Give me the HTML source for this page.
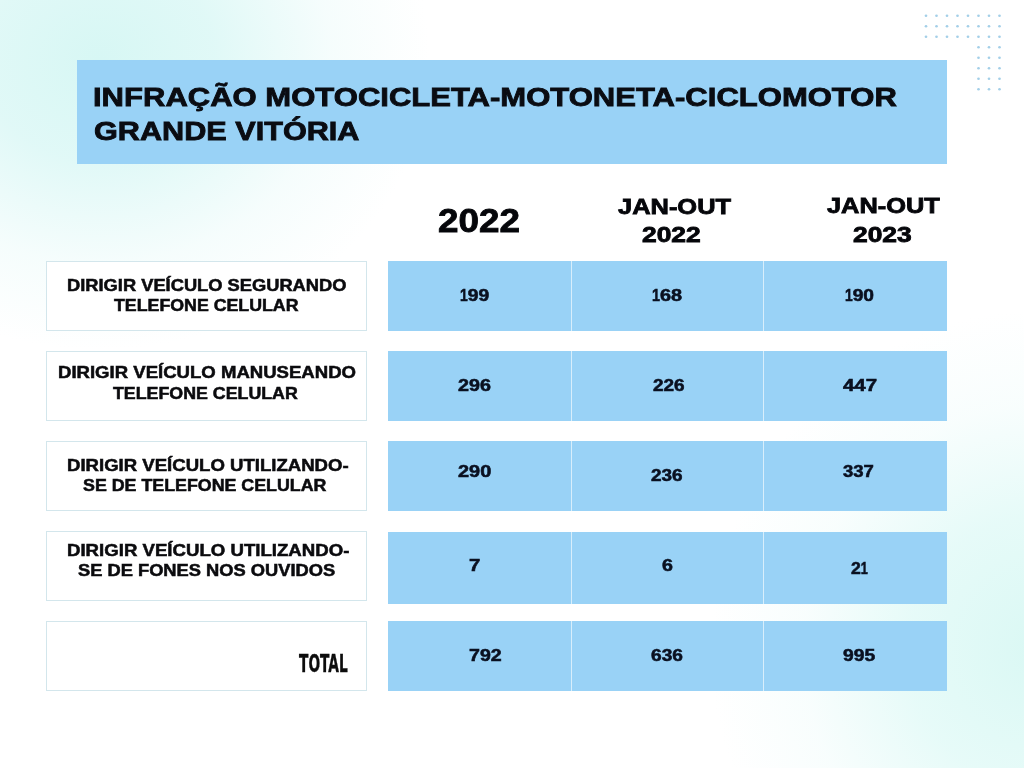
<!DOCTYPE html>
<html lang="pt-BR">
<head>
<meta charset="utf-8">
<title>Infração Motocicleta-Motoneta-Ciclomotor - Grande Vitória</title>
<style>
html,body{margin:0;padding:0}
h1{margin:0;padding:0;font-size:inherit;font-weight:inherit}
header,section,.col{display:block;margin:0;padding:0}
body{width:1024px;height:768px;overflow:hidden;background:#fff;font-family:"Liberation Sans",Arial,sans-serif}
.page{position:relative;width:1024px;height:768px;overflow:hidden;
 background:
  radial-gradient(ellipse 330px 290px at 100px 60px, rgba(215,247,244,1) 0%, rgba(221,248,246,.9) 35%, rgba(236,251,250,.5) 70%, rgba(255,255,255,0) 100%),
  radial-gradient(ellipse 330px 340px at 1040px 650px, rgba(218,248,244,1) 0%, rgba(226,250,247,.85) 40%, rgba(240,252,251,.45) 72%, rgba(255,255,255,0) 100%),
  #ffffff;}
.banner{position:absolute;left:77px;top:60px;width:870px;height:103.5px;background:#99d2f6}
.lbox{position:absolute;left:46px;width:321px;box-sizing:border-box;background:#fff;border:1px solid #d3e6ec}
.brow{position:absolute;left:388px;width:559px;background:#99d2f6}
.brow i{position:absolute;top:0;bottom:0;width:1px;background:#d8eefb}
.dots{position:absolute;left:0;top:0}
.t{position:absolute;white-space:nowrap;font-weight:bold;color:#0a0c12;transform-origin:0 0;margin:0}
.n{color:#0a1020;-webkit-text-stroke:.55px #0a1020}
.ttl{-webkit-text-stroke:.8px #0a0c12}
.hd{color:#05060a;-webkit-text-stroke:.8px #05060a}
.lb{color:#0b0b0e;-webkit-text-stroke:.5px #0b0b0e}
.tot{color:#0c0c0c;-webkit-text-stroke:.4px #0c0c0c}
.o{display:inline-block;transform:scaleX(.72);transform-origin:0 50%;margin-right:-.1558em}
.tot{font-family:"DejaVu Sans Condensed","DejaVu Sans","Liberation Sans",sans-serif}
</style>
</head>
<body>
<div class="page">
<svg class="dots" width="1024" height="120" viewBox="0 0 1024 120" aria-hidden="true"><g fill="#a3cfe8"><circle cx="926.00" cy="15.75" r="1.35"/><circle cx="936.50" cy="15.75" r="1.35"/><circle cx="947.00" cy="15.75" r="1.35"/><circle cx="957.50" cy="15.75" r="1.35"/><circle cx="968.00" cy="15.75" r="1.35"/><circle cx="978.50" cy="15.75" r="1.35"/><circle cx="989.00" cy="15.75" r="1.35"/><circle cx="999.50" cy="15.75" r="1.35"/><circle cx="926.00" cy="26.25" r="1.35"/><circle cx="936.50" cy="26.25" r="1.35"/><circle cx="947.00" cy="26.25" r="1.35"/><circle cx="957.50" cy="26.25" r="1.35"/><circle cx="968.00" cy="26.25" r="1.35"/><circle cx="978.50" cy="26.25" r="1.35"/><circle cx="989.00" cy="26.25" r="1.35"/><circle cx="999.50" cy="26.25" r="1.35"/><circle cx="926.00" cy="36.75" r="1.35"/><circle cx="936.50" cy="36.75" r="1.35"/><circle cx="947.00" cy="36.75" r="1.35"/><circle cx="957.50" cy="36.75" r="1.35"/><circle cx="968.00" cy="36.75" r="1.35"/><circle cx="978.50" cy="36.75" r="1.35"/><circle cx="989.00" cy="36.75" r="1.35"/><circle cx="999.50" cy="36.75" r="1.35"/><circle cx="978.50" cy="47.25" r="1.35"/><circle cx="989.00" cy="47.25" r="1.35"/><circle cx="999.50" cy="47.25" r="1.35"/><circle cx="978.50" cy="57.75" r="1.35"/><circle cx="989.00" cy="57.75" r="1.35"/><circle cx="999.50" cy="57.75" r="1.35"/><circle cx="978.50" cy="68.25" r="1.35"/><circle cx="989.00" cy="68.25" r="1.35"/><circle cx="999.50" cy="68.25" r="1.35"/><circle cx="978.50" cy="78.75" r="1.35"/><circle cx="989.00" cy="78.75" r="1.35"/><circle cx="999.50" cy="78.75" r="1.35"/><circle cx="978.50" cy="89.25" r="1.35"/><circle cx="989.00" cy="89.25" r="1.35"/><circle cx="999.50" cy="89.25" r="1.35"/></g></svg>
<header>
<div class="banner"></div>
<h1>
<div class="t ttl" style="left:93.25px;top:81.80px;font-size:25.58px;line-height:31px;transform:scaleX(1.2131)">INFRAÇÃO MOTOCICLETA-MOTONETA-CICLOMOTOR</div>
<div class="t ttl" style="left:94.22px;top:115.80px;font-size:25.73px;line-height:31px;transform:scaleX(1.1910)">GRANDE VITÓRIA</div>
</h1>
</header>
<section class="cols">
<div class="col"><div class="t hd" style="left:438.05px;top:200.60px;font-size:32.63px;line-height:39px;transform:scaleX(1.1285)">2022</div></div>
<div class="col"><div class="t hd" style="left:618.48px;top:193.85px;font-size:21.37px;line-height:26px;transform:scaleX(1.1907)">JAN-OUT</div><div class="t hd" style="left:642.17px;top:222.10px;font-size:21.37px;line-height:26px;transform:scaleX(1.2357)">2022</div></div>
<div class="col"><div class="t hd" style="left:826.73px;top:193.35px;font-size:21.37px;line-height:26px;transform:scaleX(1.1881)">JAN-OUT</div><div class="t hd" style="left:853.42px;top:221.60px;font-size:21.37px;line-height:26px;transform:scaleX(1.2357)">2023</div></div>
</section>
<section class="row">
<div class="lbox" style="top:261.25px;height:69.25px"></div>
<div class="t lb" style="left:66.65px;top:275.50px;font-size:15.63px;line-height:19px;transform:scaleX(1.1707)">DIRIGIR VEÍCULO SEGURANDO</div>
<div class="t lb" style="left:114.28px;top:295.50px;font-size:15.63px;line-height:19px;transform:scaleX(1.1367)">TELEFONE CELULAR</div>
<div class="brow" style="top:261.25px;height:69.25px"><i style="left:183px"></i><i style="left:374.5px"></i></div>
<div class="t n" style="left:459.95px;top:284.83px;font-size:16.28px;line-height:20px;transform:scaleX(1.1852)"><span class="o">1</span>99</div>
<div class="t n" style="left:651.93px;top:284.83px;font-size:16.28px;line-height:20px;transform:scaleX(1.2219)"><span class="o">1</span>68</div>
<div class="t n" style="left:845.20px;top:284.83px;font-size:16.28px;line-height:20px;transform:scaleX(1.1779)"><span class="o">1</span>90</div>
</section>
<section class="row">
<div class="lbox" style="top:351.25px;height:69.25px"></div>
<div class="t lb" style="left:58.39px;top:363.25px;font-size:15.63px;line-height:19px;transform:scaleX(1.1878)">DIRIGIR VEÍCULO MANUSEANDO</div>
<div class="t lb" style="left:112.78px;top:383.50px;font-size:15.63px;line-height:19px;transform:scaleX(1.1385)">TELEFONE CELULAR</div>
<div class="brow" style="top:351.25px;height:69.25px"><i style="left:183px"></i><i style="left:374.5px"></i></div>
<div class="t n" style="left:458.47px;top:375.08px;font-size:16.28px;line-height:20px;transform:scaleX(1.2128)">296</div>
<div class="t n" style="left:652.73px;top:375.08px;font-size:16.28px;line-height:20px;transform:scaleX(1.1661)">226</div>
<div class="t n" style="left:843.35px;top:375.08px;font-size:16.28px;line-height:20px;transform:scaleX(1.2568)">447</div>
</section>
<section class="row">
<div class="lbox" style="top:441.25px;height:69.25px"></div>
<div class="t lb" style="left:66.64px;top:455.50px;font-size:15.63px;line-height:19px;transform:scaleX(1.1885)">DIRIGIR VEÍCULO UTILIZANDO-</div>
<div class="t lb" style="left:83.26px;top:475.50px;font-size:15.63px;line-height:19px;transform:scaleX(1.1401)">SE DE TELEFONE CELULAR</div>
<div class="brow" style="top:441.25px;height:69.25px"><i style="left:183px"></i><i style="left:374.5px"></i></div>
<div class="t n" style="left:458.46px;top:461.33px;font-size:16.28px;line-height:20px;transform:scaleX(1.2244)">290</div>
<div class="t n" style="left:651.48px;top:465.08px;font-size:16.28px;line-height:20px;transform:scaleX(1.1661)">236</div>
<div class="t n" style="left:843.27px;top:461.33px;font-size:16.28px;line-height:20px;transform:scaleX(1.1381)">337</div>
</section>
<section class="row">
<div class="lbox" style="top:531.25px;height:69.25px"></div>
<div class="t lb" style="left:67.13px;top:540.85px;font-size:15.63px;line-height:19px;transform:scaleX(1.1917)">DIRIGIR VEÍCULO UTILIZANDO-</div>
<div class="t lb" style="left:77.51px;top:560.50px;font-size:15.63px;line-height:19px;transform:scaleX(1.1705)">SE DE FONES NOS OUVIDOS</div>
<div class="brow" style="top:531.60px;height:72.00px"><i style="left:183px"></i><i style="left:374.5px"></i></div>
<div class="t n" style="left:469.21px;top:555.08px;font-size:16.28px;line-height:20px;transform:scaleX(1.2447)">7</div>
<div class="t n" style="left:661.72px;top:555.08px;font-size:16.28px;line-height:20px;transform:scaleX(1.2083)">6</div>
<div class="t n" style="left:851.44px;top:557.58px;font-size:16.28px;line-height:20px;transform:scaleX(1.0832)">2<span class="o">1</span></div>
</section>
<section class="row">
<div class="lbox" style="top:621.25px;height:69.25px"></div>
<div class="t tot" style="left:299.37px;top:649.30px;font-size:24.49px;line-height:29px;transform:scaleX(0.6241)">TOTAL</div>
<div class="brow" style="top:621.25px;height:69.35px"><i style="left:183px"></i><i style="left:374.5px"></i></div>
<div class="t n" style="left:469.22px;top:645.08px;font-size:16.28px;line-height:20px;transform:scaleX(1.2034)">792</div>
<div class="t n" style="left:651.48px;top:645.08px;font-size:16.28px;line-height:20px;transform:scaleX(1.1754)">636</div>
<div class="t n" style="left:842.97px;top:645.08px;font-size:16.28px;line-height:20px;transform:scaleX(1.1848)">995</div>
</section>
</div>
</body>
</html>
